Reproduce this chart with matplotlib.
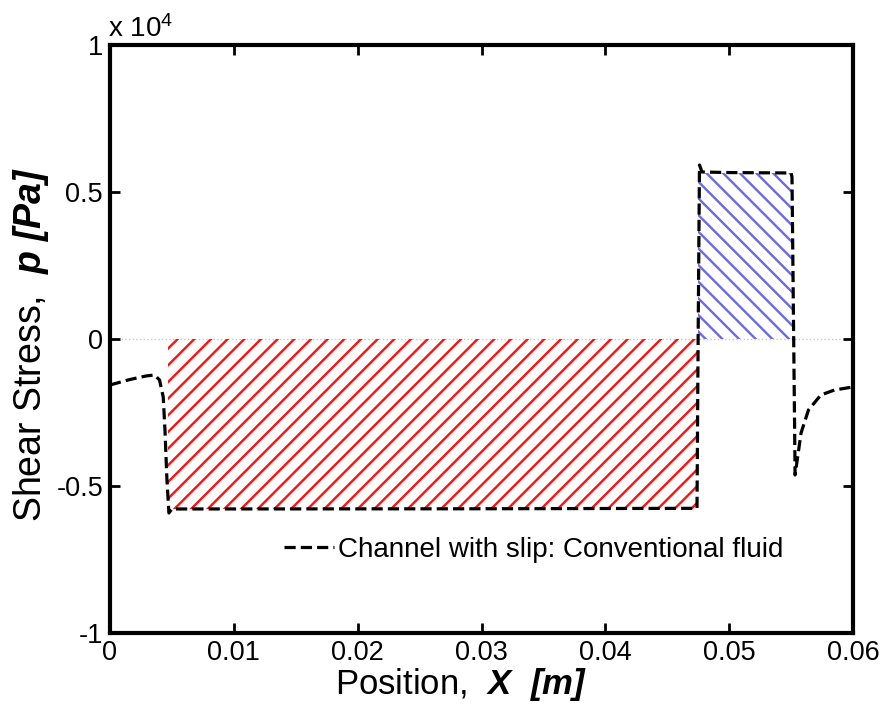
import numpy as np
import matplotlib
matplotlib.use('Agg')
import matplotlib.pyplot as plt

plt.rcParams['font.family'] = ['Liberation Sans', 'DejaVu Sans']
plt.rcParams['mathtext.fontset'] = 'custom'
plt.rcParams['mathtext.bfit'] = 'Liberation Sans:bold:italic'
plt.rcParams['mathtext.it'] = 'Liberation Sans:italic'
plt.rcParams['mathtext.rm'] = 'Liberation Sans'
plt.rcParams['axes.unicode_minus'] = False
plt.rcParams['hatch.linewidth'] = 1.7

# shear stress along the channel [Pa]
pos_x = [0.0, 0.0016, 0.0029, 0.0036, 0.0040, 0.0043, 0.00444, 0.0046, 0.00476, 0.0050,
         0.0150, 0.0300, 0.0474, 0.04749, 0.0476, 0.0478, 0.0500, 0.0550, 0.05507,
         0.05532, 0.0558, 0.0564, 0.0574, 0.0585, 0.0600]
stress = [-1565, -1380, -1260, -1224, -1395, -1973, -3095, -4796, -5918, -5782,
          -5780, -5775, -5760, 0, 5918, 5680, 5660, 5646, 5500,
          -4626, -3197, -2415, -1905, -1735, -1633]

# shaded regions: (x start, x end, level)
neg_region = (0.0047, 0.04749, -5782)
pos_region = (0.04749, 0.05507, 5646)

yticks = [-1e4, -0.5e4, 0, 0.5e4, 1e4]
ytick_labels = ['-1', '-0.5', '0', '0.5', '1']
xticks = [0, 0.01, 0.02, 0.03, 0.04, 0.05, 0.06]
xtick_labels = ['0', '0.01', '0.02', '0.03', '0.04', '0.05', '0.06']

fig = plt.figure(figsize=(8.84, 7.07), dpi=100)
ax = fig.add_axes([0.1244, 0.1047, 0.8406, 0.8317])

ax.axhline(0, color='#c8c8c8', lw=1, ls=':', zorder=1)

ax.fill_between([neg_region[0], neg_region[1]], 0, neg_region[2],
                facecolor='none', edgecolor='#ff1010', hatch='//', lw=0, zorder=2)
ax.fill_between([pos_region[0], pos_region[1]], 0, pos_region[2],
                facecolor='none', edgecolor='#6a6ae6', hatch='\\\\', lw=0, zorder=2)

ax.plot(pos_x, stress, color='black', ls=(0, (3.5, 1.6)), lw=2.3, zorder=3,
        label='Channel with slip: Conventional fluid')

ax.set_xlim(0, 0.06)
ax.set_ylim(-1e4, 1e4)
ax.set_xticks(xticks)
ax.set_xticklabels(xtick_labels)
ax.set_yticks(yticks)
ax.set_yticklabels(ytick_labels)
ax.tick_params(direction='in', length=7, width=2, labelsize=19.5,
               top=True, right=True, pad=5)
for s in ax.spines.values():
    s.set_linewidth(3)

ax.text(-0.003, 1.003, r'x 10$^4$', transform=ax.transAxes, fontsize=20,
        ha='left', va='bottom')

ax.set_xlabel(r'Position,  $\mathbfit{X}$  $\mathbfit{[m]}$', fontsize=25, labelpad=0)
ax.xaxis.label.set_x(0.473)
ax.set_ylabel(r'Shear Stress,  $\mathbfit{p}$ $\mathbfit{[Pa]}$', fontsize=27, labelpad=4)
ax.yaxis.label.set_y(0.49)

leg = ax.legend(loc='center right', bbox_to_anchor=(0.94, 0.141), frameon=False,
                fontsize=20, handlelength=1.8, handletextpad=0.15)

fig.savefig('out.png', dpi=100)
